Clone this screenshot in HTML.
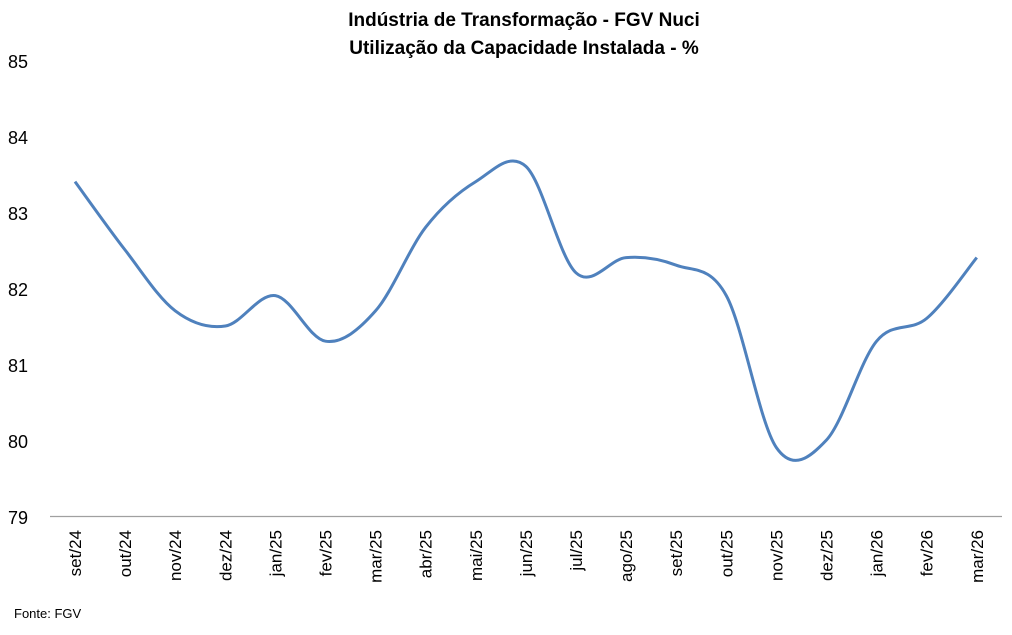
<!DOCTYPE html>
<html><head><meta charset="utf-8"><style>
body{margin:0;background:#fff;width:1012px;height:630px;overflow:hidden;font-family:"Liberation Sans",sans-serif}
</style></head><body>
<svg id="s" width="1012" height="630" xmlns="http://www.w3.org/2000/svg" font-family="Liberation Sans, sans-serif">
<text x="524" y="26" text-anchor="middle" font-size="19" font-weight="bold" fill="#000">Indústria de Transformação - FGV Nuci</text>
<text x="524" y="54" text-anchor="middle" font-size="19" font-weight="bold" fill="#000">Utilização da Capacidade Instalada - %</text>
<g font-size="18" fill="#000">
<text x="8" y="68">85</text><text x="8" y="144">84</text><text x="8" y="220">83</text>
<text x="8" y="296">82</text><text x="8" y="372">81</text><text x="8" y="448">80</text><text x="8" y="524">79</text>
</g>
<line x1="50" y1="516.5" x2="1002" y2="516.5" stroke="#a0a0a0" stroke-width="1.3"/>
<g id="lbl" font-size="17" fill="#000"></g>
<path id="p" fill="none" stroke="#4f81bd" stroke-width="3" stroke-linejoin="round"/>
<text x="14" y="618" font-size="13" fill="#000">Fonte: FGV</text>
</svg>
<script>
var labels=["set/24","out/24","nov/24","dez/24","jan/25","fev/25","mar/25","abr/25","mai/25","jun/25","jul/25","ago/25","set/25","out/25","nov/25","dez/25","jan/26","fev/26","mar/26"];
var v=[83.4,82.5,81.7,81.5,81.9,81.3,81.7,82.8,83.4,83.6,82.2,82.4,82.3,81.9,79.9,80.0,81.3,81.6,82.4];
var pts=v.map(function(y,i){return [75+50.1*i,516-(y-79)*76];});
var g=document.getElementById('lbl'),h='';
labels.forEach(function(l,i){var x=pts[i][0]+6;h+='<text transform="translate('+x+',530) rotate(-90)" text-anchor="end">'+l+'</text>';});
g.innerHTML=h;
var d='M'+pts[0][0]+','+pts[0][1];
for(var i=0;i<pts.length-1;i++){
var p0=pts[Math.max(0,i-1)],p1=pts[i],p2=pts[i+1],p3=pts[Math.min(pts.length-1,i+2)];
var t=1/6;
var c1=[p1[0]+(p2[0]-p0[0])*t,p1[1]+(p2[1]-p0[1])*t];
var c2=[p2[0]-(p3[0]-p1[0])*t,p2[1]-(p3[1]-p1[1])*t];
d+=' C'+c1[0]+','+c1[1]+' '+c2[0]+','+c2[1]+' '+p2[0]+','+p2[1];}
document.getElementById('p').setAttribute('d',d);
</script>
</body></html>
